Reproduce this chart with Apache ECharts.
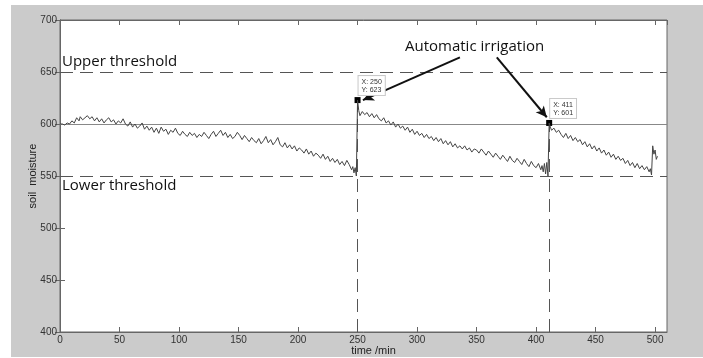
<!DOCTYPE html>
<html>
<head>
<meta charset="utf-8">
<script src="https://cdn.jsdelivr.net/npm/echarts@6/dist/echarts.min.js"></script>
<style>
  html, body { margin: 0; padding: 0; background: #fff; }
  #chart { width: 703px; height: 358px; }
</style>
</head>
<body>
<div id="chart"></div>
<script>
// soil moisture readings [time (min), value]
const beforeFirst = [
  [0,600],[2,600],[4,599],[6,601],[8,600],[10,603],[12,601],[14,606],[16,603],[17,607],
  [19,604],[21,606],[23,608],[25,605],[27,607],[29,603],[31,606],[33,602],[35,605],[37,601],
  [39,604],[41,606],[43,602],[45,604],[47,600],[49,603],[51,601],[53,605],[55,600],[57,598],
  [59,602],[61,597],[63,600],[65,596],[67,598],[69,601],[71,595],[73,598],[75,594],[77,597],
  [79,592],[81,596],[83,591],[85,597],[87,593],[89,595],[91,590],[93,594],[95,592],[97,596],
  [99,591],[101,589],[103,593],[105,590],[107,588],[109,592],[111,589],[113,591],[115,587],[117,590],
  [119,588],[121,592],[123,589],[125,586],[127,590],[129,593],[131,588],[133,591],[135,594],[137,589],
  [139,592],[141,587],[143,590],[145,586],[147,588],[149,592],[151,589],[153,585],[155,589],[157,586],
  [159,583],[161,587],[163,584],[165,582],[167,586],[169,581],[171,584],[173,588],[175,582],[177,585],
  [179,580],[181,583],[183,587],[185,580],[187,578],[189,582],[191,577],[193,580],[195,576],[197,579],
  [199,574],[201,577],[203,575],[205,572],[207,576],[209,571],[211,574],[213,569],[215,572],[217,570],
  [219,567],[221,571],[223,566],[225,569],[227,564],[229,567],[231,563],[233,566],[235,561],[237,564],
  [239,560],[241,565],[243,561],[245,556],[246,559],[247,553],[248,558],[249,550]
];
const afterFirst = [
  [250,623],[251,613],[252,608],[254,612],[256,609],[258,611],[260,607],[262,610],[264,606],[266,609],
  [268,605],[270,603],[272,606],[274,601],[276,603],[278,599],[280,602],[282,597],[284,600],[286,596],
  [288,598],[290,594],[292,597],[294,592],[296,595],[298,590],[300,593],[302,589],[304,591],[306,587],
  [308,590],[310,586],[312,588],[314,584],[316,587],[318,583],[320,586],[322,581],[324,584],[326,580],
  [328,583],[330,578],[332,581],[334,577],[336,579],[338,576],[340,579],[342,575],[344,577],[346,573],
  [348,576],[350,575],[352,572],[354,576],[356,573],[358,570],[360,574],[362,571],[364,568],[366,572],
  [368,569],[370,566],[372,570],[374,567],[376,564],[378,569],[380,565],[382,563],[384,567],[386,564],
  [388,561],[390,566],[392,562],[394,559],[396,564],[398,560],[400,558],[402,562],[404,556],[405,560],
  [406,554],[407,562],[408,552],[409,563],[410,550]
];
const afterSecond = [
  [411,601],[412,597],[413,594],[415,596],[417,592],[419,594],[421,590],[423,587],[425,591],[427,586],
  [429,589],[431,584],[433,587],[435,583],[437,585],[439,580],[441,583],[443,578],[445,581],[447,576],
  [449,579],[451,574],[453,577],[455,572],[457,575],[459,570],[461,573],[463,568],[465,571],[467,566],
  [469,569],[471,565],[473,567],[475,562],[477,565],[479,560],[481,563],[483,558],[485,562],[487,557],
  [489,560],[491,556],[493,559],[495,554],[496,557],[497,551],[498,579],[499,571],[500,575],[501,566],
  [502,569]
];

const upperThreshold = 650;
const lowerThreshold = 550;
const targetLevel = 600;
const irrigations = [[250, 623], [411, 601]];
// arrow tails (data coords) leading from the caption to each irrigation point
const arrowTails = [[336, 664], [367, 664]];
const arrowHeads = [[254.5, 623], [409, 606.5]];

const xTicks = [0, 510, 50];
const yTicks = [400, 700, 50];

const chart = echarts.init(document.getElementById("chart"));

const axisText = { color: "#333", fontSize: 10, fontFamily: "Liberation Sans" };
const borderColor = "#666";

const option = {
  animation: false,
  backgroundColor: "#fff",
  graphic: [
    { type: "rect", z: -10, shape: { x: 11, y: 5, width: 692, height: 352 }, style: { fill: "#cbcbcb" } },
    { type: "text", left: 62, top: 54, z: 50,
      style: { text: "Upper threshold", font: "15px 'Open Sans'", fill: "#111" } },
    { type: "text", left: 62, top: 178, z: 50,
      style: { text: "Lower threshold", font: "15px 'Open Sans'", fill: "#111" } },
    { type: "text", left: 405, top: 39, z: 50,
      style: { text: "Automatic irrigation", font: "15px 'Open Sans'", fill: "#111" } }
  ],
  grid: {
    left: 60, right: 36, top: 20, bottom: 26,
    outerBoundsMode: "none",
    show: true, backgroundColor: "#fff", borderColor: borderColor, borderWidth: 1
  },
  xAxis: [
    {
      type: "value", min: xTicks[0], max: xTicks[1], interval: xTicks[2],
      name: "time /min", nameLocation: "middle", nameGap: 13, nameMoveOverlap: false,
      nameTextStyle: { color: "#222", fontSize: 11, fontFamily: "Liberation Sans", padding: [0, 0, 0, 20] },
      axisLine: { show: true, onZero: false, lineStyle: { color: borderColor } },
      axisTick: { inside: true, length: 5, lineStyle: { color: borderColor } },
      axisLabel: Object.assign({ margin: 3, showMaxLabel: false }, axisText),
      splitLine: { show: false }
    },
    {
      type: "value", position: "top", min: xTicks[0], max: xTicks[1], interval: xTicks[2],
      axisLine: { show: true, lineStyle: { color: borderColor } },
      axisTick: { inside: true, length: 5, lineStyle: { color: borderColor } },
      axisLabel: { show: false }, splitLine: { show: false }
    }
  ],
  yAxis: [
    {
      type: "value", min: yTicks[0], max: yTicks[1], interval: yTicks[2],
      name: "soil  moisture", nameLocation: "middle", nameGap: 22, nameMoveOverlap: false,
      nameTextStyle: { color: "#222", fontSize: 11, fontFamily: "Liberation Sans" },
      axisLine: { show: true, onZero: false, lineStyle: { color: borderColor } },
      axisTick: { inside: true, length: 5, lineStyle: { color: borderColor } },
      axisLabel: Object.assign({ margin: 3 }, axisText),
      splitLine: { show: false }
    },
    {
      type: "value", position: "right", min: yTicks[0], max: yTicks[1], interval: yTicks[2],
      axisLine: { show: true, lineStyle: { color: borderColor } },
      axisTick: { inside: true, length: 5, lineStyle: { color: borderColor } },
      axisLabel: { show: false }, splitLine: { show: false }
    }
  ],
  series: [
    {
      name: "soil moisture",
      type: "line",
      data: beforeFirst.concat(afterFirst, afterSecond),
      showSymbol: false,
      symbol: "none",
      lineStyle: { color: "#444", width: 1 },
      z: 5,
      markLine: {
        silent: true,
        symbol: "none",
        label: { show: false },
        animation: false,
        data: [
          { yAxis: upperThreshold, lineStyle: { color: "#555", type: [13, 7], width: 1 } },
          { yAxis: lowerThreshold, lineStyle: { color: "#555", type: [13, 7], width: 1 } },
          { yAxis: targetLevel, lineStyle: { color: "#888", type: "solid", width: 1.2 } },
          ...irrigations.map(p => [
            { coord: [p[0], yTicks[0]], lineStyle: { color: "#555", type: [13, 7], width: 1 } },
            { coord: [p[0], p[1]] }
          ])
        ]
      }
    },
    {
      name: "arrows",
      type: "line",
      data: [],
      z: 8,
      markLine: {
        silent: true,
        symbol: ["none", "arrow"],
        symbolSize: [8, 11],
        label: { show: false },
        lineStyle: { color: "#111", type: "solid", width: 2 },
        data: arrowTails.map((t, i) => [{ coord: t }, { coord: arrowHeads[i] }])
      },
      markPoint: {
        silent: true,
        symbol: "rect",
        symbolSize: 6,
        itemStyle: { color: "#000" },
        label: {
          show: true,
          position: [4, -21],
          color: "#333",
          fontSize: 7,
          lineHeight: 8,
          fontFamily: "Liberation Sans",
          backgroundColor: "#fff",
          borderColor: "#c8c8c8",
          borderWidth: 1,
          padding: [2, 3, 1, 3],
          formatter: p => "X: " + p.data.coord[0] + "\nY: " + p.data.coord[1]
        },
        data: irrigations.map(p => ({ coord: p }))
      }
    }
  ]
};

chart.setOption(option);
</script>
</body>
</html>
